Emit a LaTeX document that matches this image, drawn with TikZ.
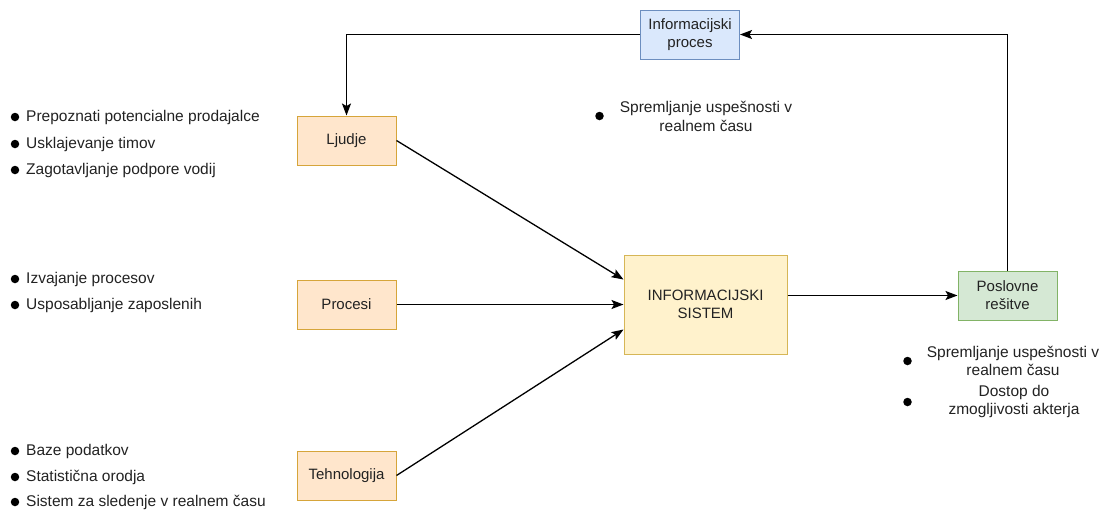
\documentclass[tikz,border=0pt]{standalone}
\usepackage{fontspec}
\setmainfont{Liberation Sans}
\usetikzlibrary{arrows.meta}
\definecolor{txt}{HTML}{222222}
\definecolor{orfill}{HTML}{FFE6CC}
\definecolor{ordraw}{HTML}{D6A53A}
\definecolor{ylfill}{HTML}{FFF2CC}
\definecolor{yldraw}{HTML}{D6B656}
\definecolor{blfill}{HTML}{DAE8FC}
\definecolor{bldraw}{HTML}{6C8EBF}
\definecolor{grfill}{HTML}{D5E8D4}
\definecolor{grdraw}{HTML}{82B366}
\tikzset{
  box/.style={draw, line width=1pt, minimum width=99pt, minimum height=49pt,
    inner sep=2pt, align=center, text=txt, font=\fontsize{15}{18}\selectfont},
  orange/.style={box, fill=orfill, draw=ordraw},
  bluebox/.style={box, fill=blfill, draw=bldraw},
  greenbox/.style={box, fill=grfill, draw=grdraw},
  core/.style={box, fill=ylfill, draw=yldraw, minimum width=163pt, minimum height=99pt},
  item/.style={anchor=west, inner sep=0pt, text=txt, font=\fontsize{15.5}{18}\selectfont},
  note/.style={inner sep=0pt, align=center, text=txt, font=\fontsize{15.5}{18.5}\selectfont},
  dot/.style={circle, fill=black, inner sep=0pt, minimum size=8.5pt},
  link/.style={line width=1.3pt, -{Stealth[length=12pt,width=9pt,inset=2.5pt]}},
}
\begin{document}
\begin{tikzpicture}[x=1pt,y=-1pt]
\useasboundingbox (0,0) rectangle (1105,509);

% main blocks
\node[bluebox] (ip) at (690,34.5) {Informacijski\\proces};
\node[orange] (lj) at (346.5,140.5) {Ljudje};
\node[orange] (pr) at (346.5,304.5) {Procesi};
\node[orange] (te) at (346.5,475.5) {Tehnologija};
\node[core] (is) at (705.5,304.5) {INFORMACIJSKI\\SISTEM};
\node[greenbox] (pos) at (1007.5,295.5) {Poslovne\\rešitve};

% bullet lists on the left
\node[dot] (b1) at (15,117) {};
\node[item] (t1) at (26,117) {Prepoznati potencialne prodajalce};
\node[dot] (b2) at (15,144) {};
\node[item] (t2) at (26,144) {Usklajevanje timov};
\node[dot] (b3) at (15,170) {};
\node[item] (t3) at (26,170) {Zagotavljanje podpore vodij};

\node[dot] (b4) at (15,279) {};
\node[item] (t4) at (26,279) {Izvajanje procesov};
\node[dot] (b5) at (15,305) {};
\node[item] (t5) at (26,305) {Usposabljanje zaposlenih};

\node[dot] (b6) at (15,451) {};
\node[item] (t6) at (26,451) {Baze podatkov};
\node[dot] (b7) at (15,477) {};
\node[item] (t7) at (26,477) {Statistična orodja};
\node[dot] (b8) at (15,502) {};
\node[item] (t8) at (26,502) {Sistem za sledenje v realnem času};

% notes
\node[dot] (b9) at (599.5,116) {};
\node[note] (n1) at (706,116.5) {Spremljanje uspešnosti v\\realnem času};
\node[dot] (b10) at (907.5,361) {};
\node[note] (n2) at (1013,361) {Spremljanje uspešnosti v\\realnem času};
\node[dot] (b11) at (907.5,402) {};
\node[note] (n3) at (1014,401.5) {Dostop do\\zmogljivosti akterja};

% connectors
\draw[link] (lj.east) -- ([yshift=25pt]is.west);
\draw[link] (pr.east) -- (is.west);
\draw[link] (te.east) -- ([yshift=-25pt]is.west);
\draw[link] (is.east |- pos.west) -- (pos.west);
\draw[link] (pos.north) |- (ip.east);
\draw[link] (ip.west) -| (lj.north);
\end{tikzpicture}
\end{document}
